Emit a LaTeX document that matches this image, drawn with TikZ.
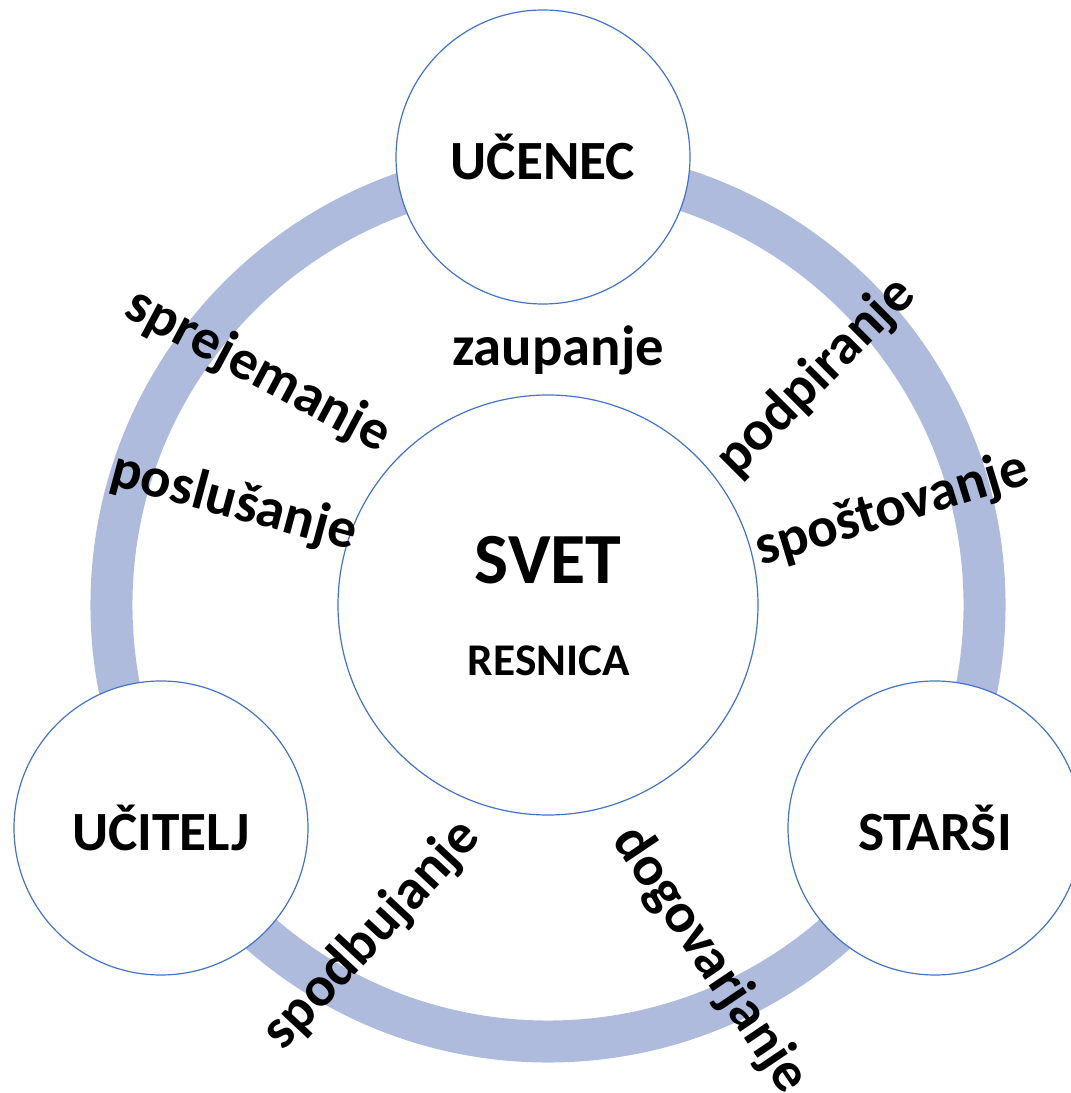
\documentclass[tikz,border=0pt]{standalone}
\usepackage{fontspec}
\setmainfont{Carlito}
\definecolor{ringc}{RGB}{175,187,221}
\definecolor{edgec}{RGB}{68,114,196}
\tikzset{
  bigcirc/.style={circle, draw=edgec, line width=0.9pt, fill=white, inner sep=0pt},
  role/.style={font=\fontsize{41.5}{45}\selectfont\bfseries, inner sep=0pt},
  lbl/.style={font=\fontsize{42.5}{46}\selectfont\bfseries, inner sep=0pt},
}
\begin{document}
\begin{tikzpicture}[x=0.75pt,y=0.75pt]
\clip (0,0) rectangle (1071,1093);
\useasboundingbox (0,0) rectangle (1071,1093);
\coordinate (c) at (548,488);
\draw[ringc, line width=31.5pt] (c) circle[radius=327.4pt];
\node[bigcirc, minimum size=315pt] (svet) at (c) {};
\node[bigcirc, minimum size=220.5pt] (ucenec) at (543,936) {};
\node[bigcirc, minimum size=220.5pt] (ucitelj) at (161,265) {};
\node[bigcirc, minimum size=220.5pt] (starsi) at (935,265) {};
\node[role] (tucenec) at (ucenec) {UČENEC};
\node[role] (tucitelj) at (ucitelj) {UČITELJ};
\node[role] (tstarsi) at (starsi) {STARŠI};
\node[font=\fontsize{54}{58}\selectfont\bfseries, inner sep=0pt] (tsvet) at (548,533) {SVET};
\node[font=\fontsize{34}{38}\selectfont\bfseries, inner sep=0pt] (tresnica) at (549,432) {RESNICA};
\node[lbl] (zaupanje) at (558,743) {zaupanje};
\node[lbl, rotate=-28] (sprejemanje) at (258,722) {sprejemanje};
\node[lbl, rotate=-15] (poslusanje) at (234,590) {poslušanje};
\node[lbl, rotate=45] (podpiranje) at (816,716) {podpiranje};
\node[lbl, rotate=17] (spostovanje) at (892,583) {spoštovanje};
\node[lbl, rotate=47] (spodbujanje) at (372,158) {spodbujanje};
\node[lbl, rotate=-56] (dogovarjanje) at (710,133) {dogovarjanje};
\end{tikzpicture}
\end{document}
